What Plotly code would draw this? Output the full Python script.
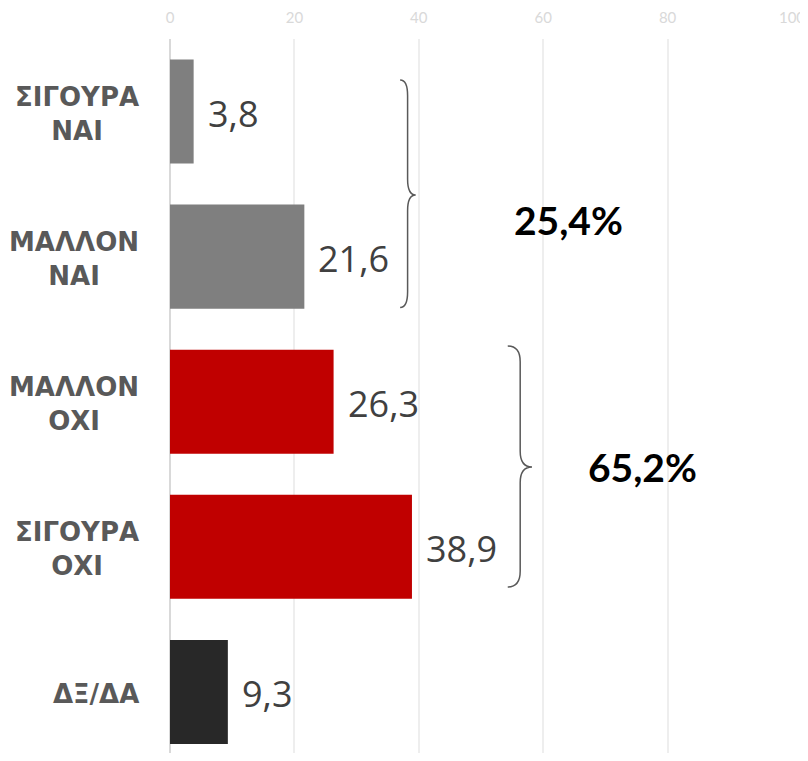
"""Horizontal bar chart: ΣΙΓΟΥΡΑ/ΜΑΛΛΟΝ ΝΑΙ/ΟΧΙ with grouped totals."""

import plotly.graph_objects as go

# data
CATEGORIES = ["ΣΙΓΟΥΡΑ<br>ΝΑΙ", "ΜΑΛΛΟΝ<br>ΝΑΙ", "ΜΑΛΛΟΝ<br>ΟΧΙ", "ΣΙΓΟΥΡΑ<br>ΟΧΙ", "ΔΞ/ΔΑ"]
VALUES = [3.8, 21.6, 26.3, 38.9, 9.3]
BAR_COLORS = ["#7f7f7f", "#7f7f7f", "#c00000", "#c00000", "#282828"]
YES_IDX = [0, 1]
NO_IDX = [2, 3]
X_TICKS = [0, 20, 40, 60, 80, 100]

# y axis (reversed category index range)
Y_RANGE = [4.421, -0.5]


def fmt(v: float) -> str:
    return f"{v:.1f}".replace(".", ",")


def y_paper(idx: float) -> float:
    """Category index -> paper y, from the y range."""
    return (Y_RANGE[0] - idx) / (Y_RANGE[0] - Y_RANGE[1])


def brace_path(x_end, x_spine, x_tip, top, bottom, tip, r=0.022):
    t, b, m = y_paper(top), y_paper(bottom), y_paper(tip)
    return (
        f"M {x_end},{t} Q {x_spine},{t} {x_spine},{t - r} "
        f"L {x_spine},{m + r} Q {x_spine},{m} {x_tip},{m} "
        f"Q {x_spine},{m} {x_spine},{m - r} "
        f"L {x_spine},{b + r} Q {x_spine},{b} {x_end},{b}"
    )


fig = go.Figure(
    go.Bar(
        x=VALUES,
        y=CATEGORIES,
        orientation="h",
        marker=dict(color=BAR_COLORS, line=dict(width=0)),
        hoverinfo="skip",
    )
)

# category labels (right-anchored block, centred lines)
for cat in CATEGORIES:
    fig.add_annotation(
        x=0, xref="paper", xanchor="right", xshift=-29,
        y=cat, yref="y", yanchor="middle", yshift=-2,
        text=f"<b>{cat}</b>", align="center", showarrow=False,
        font=dict(family="DejaVu Sans", size=26, color="#595959"),
    )

# value labels
for cat, v in zip(CATEGORIES, VALUES):
    fig.add_annotation(
        x=v, y=cat, xanchor="left", xshift=12, yshift=-2,
        text=fmt(v), showarrow=False,
        font=dict(family="Open Sans", size=36, color="#404040"),
    )

# braces + totals
yes_total = sum(VALUES[i] for i in YES_IDX)
no_total = sum(VALUES[i] for i in NO_IDX)
braces = [
    # x_end, x_spine, x_tip, top, bottom, tip, total, text_x
    (37.0, 38.2, 39.5, -0.217, 1.35, 0.575, yes_total, 64.0),
    (54.3, 56.3, 58.2, 1.616, 3.277, 2.45, no_total, 76.0),
]
for x_end, x_spine, x_tip, top, bottom, tip, total, text_x in braces:
    fig.add_shape(
        type="path",
        path=brace_path(x_end, x_spine, x_tip, top, bottom, tip),
        xref="x", yref="paper",
        line=dict(color="#595959", width=1.5),
    )
    fig.add_annotation(
        x=text_x, xref="x", y=y_paper(tip), yref="paper",
        text=f"<b>{fmt(total)}%</b>", showarrow=False,
        font=dict(family="Lato", size=39, color="#000000"),
    )

fig.update_xaxes(
    range=[0, 100],
    side="top",
    tickvals=X_TICKS,
    showgrid=True,
    gridcolor="#eeeeee",
    gridwidth=1.5,
    zeroline=True,
    zerolinecolor="#d9d9d9",
    zerolinewidth=1.5,
    showline=False,
    ticks="",
    ticklabelstandoff=12,
    ticklabeloverflow="allow",
    automargin=False,
    tickfont=dict(family="Lato", size=15, color="#d9d9d9"),
    fixedrange=True,
)
fig.update_yaxes(
    range=Y_RANGE,
    showticklabels=False,
    showgrid=False,
    zeroline=False,
    automargin=False,
    fixedrange=True,
)

# page body adds an 8px margin; plot lands at x=170..792, y=39 in the window
fig.update_layout(
    width=800,
    height=745,
    margin=dict(l=162, r=16, t=31, b=0, autoexpand=False),
    bargap=0.283,
    plot_bgcolor="#ffffff",
    paper_bgcolor="#ffffff",
    showlegend=False,
)

fig.write_html("out.html")
